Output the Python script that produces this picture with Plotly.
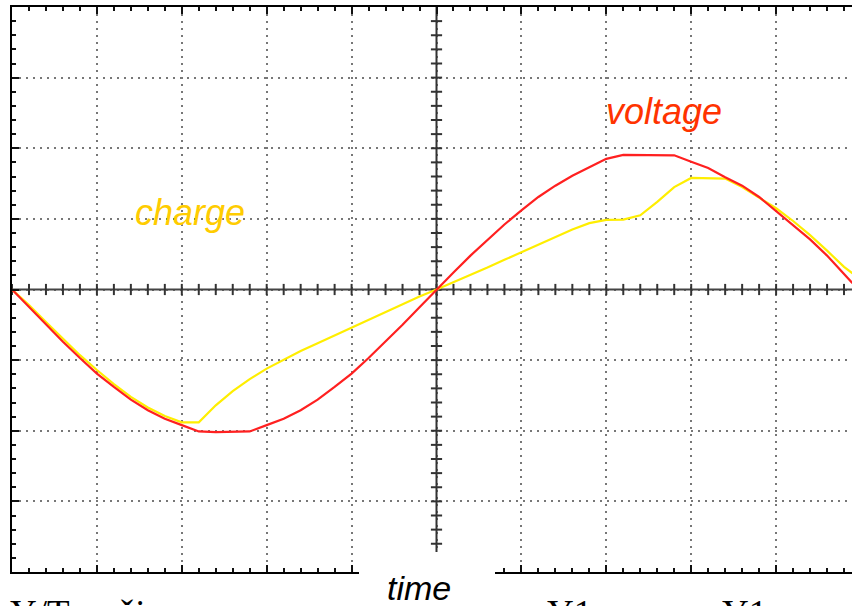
import numpy as np
import plotly.graph_objects as go

# time axis in screen divisions
time_div = [0.0, 0.2, 0.4, 0.6, 0.8, 1.0, 1.2, 1.4, 1.6, 1.8,
            2.0, 2.2, 2.4, 2.6, 2.8, 3.0, 3.2, 3.4, 3.6, 3.8,
            4.0, 4.2, 4.4, 4.6, 4.8, 5.0, 5.2, 5.4, 5.6, 5.8,
            6.0, 6.2, 6.4, 6.6, 6.8, 7.0, 7.2, 7.4, 7.6, 7.8,
            8.0, 8.2, 8.4, 8.6, 8.8, 9.0, 9.2, 9.4, 9.6, 9.8, 9.9]

voltage = [0.0, -0.25, -0.50, -0.74, -0.97, -1.19, -1.38, -1.56, -1.71, -1.83,
           -1.92, -2.01, -2.02, -2.02, -2.01, -1.92, -1.83, -1.71, -1.56, -1.38,
           -1.19, -0.97, -0.74, -0.50, -0.25, 0.0, 0.24, 0.48, 0.70, 0.92,
           1.12, 1.31, 1.47, 1.61, 1.73, 1.85, 1.905, 1.905, 1.905, 1.90,
           1.81, 1.72, 1.59, 1.47, 1.31, 1.11, 0.92, 0.71, 0.48, 0.23, 0.09]

charge = [0.0, -0.22, -0.46, -0.70, -0.93, -1.14, -1.34, -1.52, -1.67, -1.79,
          -1.88, -1.88, -1.64, -1.44, -1.27, -1.12, -0.99, -0.87, -0.76, -0.65,
          -0.54, -0.43, -0.31, -0.20, -0.10, 0.0, 0.10, 0.21, 0.31, 0.42,
          0.53, 0.63, 0.74, 0.85, 0.94, 0.985, 0.99, 1.05, 1.24, 1.45,
          1.58, 1.58, 1.57, 1.45, 1.30, 1.15, 0.97, 0.77, 0.55, 0.32, 0.23]

X_MAX = 9.894   # visible part of the 10-division screen
Y_HALF = 4

fig = go.Figure()

# centre axis tick marks (graticule decoration)
hx = np.arange(0, 9.9, 0.2)
fig.add_trace(go.Scatter(x=hx, y=np.zeros_like(hx), mode="markers", hoverinfo="skip",
                         marker=dict(symbol="line-ns", size=8,
                                     line=dict(width=2, color="#333333")),
                         showlegend=False))
vy = np.arange(-3.8, 4.0, 0.2)
fig.add_trace(go.Scatter(x=np.full_like(vy, 5.0), y=vy, mode="markers", hoverinfo="skip",
                         marker=dict(symbol="line-ew", size=8,
                                     line=dict(width=2, color="#333333")),
                         showlegend=False))

fig.add_trace(go.Scatter(x=time_div, y=charge, mode="lines", name="charge",
                         line=dict(color="#ffee00", width=2.2), showlegend=False))
fig.add_trace(go.Scatter(x=time_div, y=voltage, mode="lines", name="voltage",
                         line=dict(color="#ff2020", width=2.2), showlegend=False))

# centre axes
fig.add_shape(type="line", xref="x", yref="y", x0=0, x1=X_MAX, y0=0, y1=0,
              line=dict(color="#444444", width=2), layer="between")
fig.add_shape(type="line", xref="x", yref="y", x0=5, x1=5, y0=-4, y1=4,
              line=dict(color="#333333", width=2), layer="between")

# white box behind the "time" label
fig.add_shape(type="rect", xref="paper", yref="paper",
              x0=(359 - 12) / 840, x1=(495 - 12) / 840,
              y0=-0.08, y1=(572 - 552) / 565,
              line=dict(width=0), fillcolor="white", layer="above")

axis_common = dict(showline=True, linecolor="black", linewidth=2,
                   ticks="inside", ticklen=7, tickwidth=2, tickcolor="#111111",
                   dtick=1, tick0=0,
                   showgrid=True, gridcolor="#777777", gridwidth=2,
                   griddash="2px,5px",
                   zeroline=False, showticklabels=False,
                   minor=dict(dtick=0.2, tick0=0, ticks="inside", ticklen=4,
                              tickwidth=2, tickcolor="#111111", showgrid=False))

fig.update_xaxes(range=[0, X_MAX], mirror="ticks", **axis_common)
fig.update_yaxes(range=[-Y_HALF, Y_HALF], mirror=False, **axis_common)


def label(text, px, py, font, xanchor="center"):
    fig.add_annotation(text=text, x=(px - 12) / 840, y=(572 - py) / 565,
                       xref="paper", yref="paper", showarrow=False,
                       xanchor=xanchor, yanchor="middle", font=font)


label("<i>voltage</i>", 664, 112,
      dict(family="Liberation Sans, Arial", size=36, color="#ff3300"))
label("<i>charge</i>", 190, 212,
      dict(family="Liberation Sans, Arial", size=36, color="#ffcc00"))
label("<i>time</i>", 419, 588,
      dict(family="Liberation Sans, Arial", size=34, color="black"))

serif = dict(family="Liberation Serif, Times New Roman", size=37, color="black")
label("Y/T", 8, 613, serif, xanchor="left")
label("režim", 88, 613, serif, xanchor="left")
label("Y1", 545, 613, serif, xanchor="left")
label("Y1", 720, 613, serif, xanchor="left")

fig.update_layout(width=852, height=606,
                  margin=dict(l=12, r=0, t=7, b=34, autoexpand=False),
                  paper_bgcolor="white", plot_bgcolor="white")

fig.write_html("out.html")
